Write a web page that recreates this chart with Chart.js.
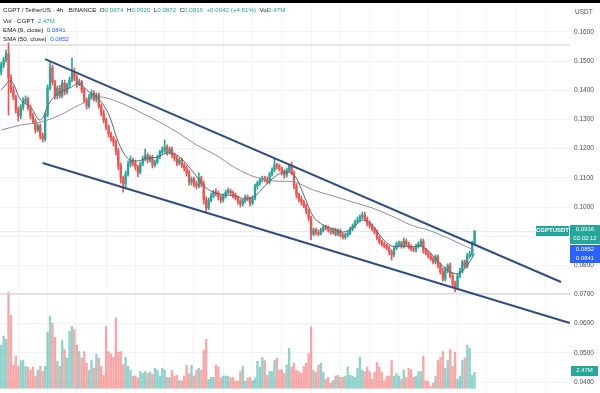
<!DOCTYPE html>
<html>
<head>
<meta charset="utf-8">
<script src="https://cdn.jsdelivr.net/npm/chart.js@4.4.1/dist/chart.umd.min.js"></script>
<style>
  html, body { margin: 0; padding: 0; background: #fff; }
  #wrap { position: relative; width: 600px; height: 393px; overflow: hidden; font-family: "Liberation Sans", Arial, sans-serif; }
  #c { position: absolute; left: 0; top: 0; }
  #topbar { position: absolute; left: 0; top: 0; width: 600px; height: 3px; background: #000; }
  .hd { position: absolute; left: 3px; font-size: 6.2px; line-height: 8px; color: #131722; white-space: nowrap; }
  .up { color: #26a69a; }
  .bl { color: #2962ff; }
  .tag { position: absolute; color: #fff; font-size: 6px; line-height: 9px; text-align: center; white-space: nowrap; }
  #usdt { position: absolute; left: 575px; top: 8px; font-size: 6.5px; color: #4a4a4a; }
</style>
</head>
<body>
<div id="wrap">
  <canvas id="c" width="600" height="393"></canvas>
  <div id="topbar"></div>
  <div class="hd" style="top:6px">CGPT / TetherUS · 4h · BINANCE&nbsp; O<span class="up">0.0874</span>&nbsp; H<span class="up">0.0920</span>&nbsp; L<span class="up">0.0872</span>&nbsp; C<span class="up">0.0916</span>&nbsp; <span class="up">+0.0042 (+4.81%)</span>&nbsp; Vol<span class="up">2.47M</span></div>
  <div class="hd" style="top:17px">Vol · CGPT&nbsp; <span class="up">2.47M</span></div>
  <div class="hd" style="top:26px">EMA (9, close)&nbsp; <span class="bl">0.0841</span></div>
  <div class="hd" style="top:35px">SMA (50, close)&nbsp; <span class="bl">0.0852</span></div>
  <div id="usdt">USDT</div>
  <div class="tag" style="left:536px;top:226px;width:33px;height:10px;background:#26a69a;font-weight:bold;">CGPTUSDT</div>
  <div class="tag" style="left:570px;top:225px;width:30px;height:19px;background:#26a69a;">0.0916<br>02:02:12</div>
  <div class="tag" style="left:570px;top:245px;width:30px;height:18px;background:#2962ff;">0.0852<br>0.0841</div>
  <div class="tag" style="left:571px;top:366px;width:27px;height:10px;background:#26a69a;">2.47M</div>
</div>
<script>
// 4h candles, CGPT/USDT
const opens = [
  0.1463,0.1487,0.1504,0.1525,0.1442,0.1401,0.1377,0.1333,0.1312,0.1343,
  0.1363,0.1370,0.1339,0.1312,0.1295,0.1264,0.1278,0.1243,0.1233,0.1315,
  0.1408,0.1477,0.1429,0.1381,0.1408,0.1381,0.1425,0.1394,0.1418,0.1435,
  0.1459,0.1442,0.1422,0.1429,0.1401,0.1367,0.1346,0.1377,0.1391,0.1370,
  0.1384,0.1346,0.1322,0.1298,0.1274,0.1250,0.1237,0.1223,0.1192,0.1141,
  0.1099,0.1079,0.1113,0.1147,0.1161,0.1151,0.1137,0.1120,0.1147,0.1165,
  0.1178,0.1161,0.1171,0.1144,0.1154,0.1171,0.1189,0.1195,0.1206,0.1189,
  0.1199,0.1178,0.1168,0.1151,0.1161,0.1144,0.1134,0.1117,0.1086,0.1096,
  0.1079,0.1072,0.1099,0.1079,0.1024,0.0997,0.1024,0.1038,0.1051,0.1048,
  0.1034,0.1024,0.1038,0.1051,0.1055,0.1048,0.1041,0.1031,0.1021,0.1010,
  0.1021,0.1034,0.1027,0.1014,0.1031,0.1072,0.1082,0.1093,0.1099,0.1093,
  0.1086,0.1113,0.1127,0.1144,0.1141,0.1130,0.1120,0.1110,0.1127,0.1141,
  0.1117,0.1072,0.1041,0.1027,0.1017,0.1003,0.0986,0.0962,0.0907,0.0921,
  0.0914,0.0907,0.0921,0.0931,0.0928,0.0921,0.0914,0.0921,0.0907,0.0918,
  0.0904,0.0897,0.0904,0.0911,0.0925,0.0935,0.0949,0.0955,0.0966,0.0973,
  0.0959,0.0945,0.0935,0.0925,0.0914,0.0894,0.0880,0.0873,0.0866,0.0859,
  0.0846,0.0836,0.0859,0.0873,0.0877,0.0866,0.0883,0.0873,0.0863,0.0856,
  0.0853,0.0866,0.0873,0.0883,0.0853,0.0842,0.0832,0.0822,0.0812,0.0829,
  0.0801,0.0777,0.0753,0.0784,0.0798,0.0764,0.0736,0.0726,0.0764,0.0781,
  0.0812,0.0798,0.0832,0.0839,0.0874
];
const highs = [
  0.1497,0.1514,0.1538,0.1562,0.1453,0.1415,0.1384,0.1343,0.1353,0.1374,
  0.1381,0.1377,0.1350,0.1322,0.1302,0.1285,0.1285,0.1254,0.1322,0.1418,
  0.1494,0.1487,0.1435,0.1415,0.1418,0.1435,0.1435,0.1425,0.1446,0.1511,
  0.1477,0.1453,0.1439,0.1435,0.1408,0.1374,0.1387,0.1401,0.1398,0.1391,
  0.1391,0.1353,0.1333,0.1305,0.1281,0.1257,0.1243,0.1230,0.1202,0.1151,
  0.1106,0.1123,0.1158,0.1175,0.1168,0.1161,0.1144,0.1154,0.1175,0.1199,
  0.1185,0.1178,0.1178,0.1161,0.1178,0.1195,0.1206,0.1230,0.1213,0.1206,
  0.1206,0.1185,0.1175,0.1168,0.1168,0.1151,0.1141,0.1127,0.1103,0.1103,
  0.1089,0.1117,0.1106,0.1089,0.1034,0.1031,0.1048,0.1058,0.1062,0.1055,
  0.1041,0.1045,0.1058,0.1065,0.1062,0.1055,0.1048,0.1038,0.1027,0.1027,
  0.1041,0.1041,0.1034,0.1038,0.1079,0.1089,0.1099,0.1106,0.1106,0.1103,
  0.1120,0.1134,0.1168,0.1151,0.1147,0.1137,0.1127,0.1134,0.1147,0.1154,
  0.1123,0.1079,0.1048,0.1038,0.1024,0.1010,0.0993,0.0969,0.0928,0.0928,
  0.0921,0.0928,0.0938,0.0938,0.0935,0.0928,0.0928,0.0928,0.0925,0.0925,
  0.0911,0.0911,0.0918,0.0931,0.0942,0.0955,0.0966,0.0973,0.0983,0.0983,
  0.0966,0.0952,0.0942,0.0931,0.0921,0.0901,0.0887,0.0880,0.0873,0.0866,
  0.0853,0.0866,0.0880,0.0883,0.0883,0.0894,0.0890,0.0880,0.0870,0.0863,
  0.0873,0.0880,0.0890,0.0890,0.0859,0.0849,0.0842,0.0829,0.0836,0.0836,
  0.0808,0.0791,0.0794,0.0805,0.0808,0.0774,0.0746,0.0770,0.0791,0.0818,
  0.0818,0.0842,0.0849,0.0883,0.0920
];
const lows = [
  0.1453,0.1477,0.1497,0.1315,0.1391,0.1367,0.1322,0.1295,0.1302,0.1333,
  0.1353,0.1333,0.1302,0.1285,0.1254,0.1257,0.1233,0.1223,0.1226,0.1309,
  0.1401,0.1418,0.1370,0.1370,0.1374,0.1374,0.1384,0.1387,0.1408,0.1429,
  0.1432,0.1411,0.1415,0.1391,0.1357,0.1336,0.1339,0.1370,0.1363,0.1360,
  0.1339,0.1312,0.1288,0.1264,0.1240,0.1226,0.1209,0.1178,0.1127,0.1082,
  0.1051,0.1069,0.1106,0.1137,0.1141,0.1127,0.1103,0.1113,0.1141,0.1158,
  0.1151,0.1154,0.1134,0.1137,0.1147,0.1165,0.1182,0.1185,0.1178,0.1182,
  0.1168,0.1158,0.1141,0.1144,0.1134,0.1123,0.1106,0.1075,0.1075,0.1069,
  0.1062,0.1065,0.1069,0.1010,0.0983,0.0990,0.1017,0.1031,0.1038,0.1024,
  0.1014,0.1017,0.1031,0.1045,0.1041,0.1031,0.1024,0.1010,0.1000,0.1003,
  0.1014,0.1021,0.1003,0.1007,0.1024,0.1062,0.1075,0.1086,0.1086,0.1079,
  0.1079,0.1106,0.1120,0.1130,0.1123,0.1110,0.1099,0.1103,0.1120,0.1110,
  0.1062,0.1031,0.1017,0.1007,0.0997,0.0976,0.0952,0.0887,0.0901,0.0904,
  0.0901,0.0904,0.0914,0.0921,0.0914,0.0907,0.0907,0.0901,0.0901,0.0897,
  0.0890,0.0890,0.0897,0.0904,0.0918,0.0928,0.0942,0.0949,0.0959,0.0952,
  0.0935,0.0928,0.0918,0.0907,0.0887,0.0873,0.0866,0.0859,0.0853,0.0836,
  0.0818,0.0829,0.0853,0.0863,0.0859,0.0859,0.0866,0.0856,0.0849,0.0846,
  0.0846,0.0859,0.0866,0.0842,0.0836,0.0825,0.0815,0.0805,0.0805,0.0791,
  0.0770,0.0746,0.0746,0.0774,0.0757,0.0726,0.0709,0.0719,0.0757,0.0774,
  0.0791,0.0791,0.0825,0.0829,0.0872
];
const closes = [
  0.1487,0.1504,0.1525,0.1442,0.1401,0.1377,0.1333,0.1312,0.1343,0.1363,
  0.1370,0.1339,0.1312,0.1295,0.1264,0.1278,0.1243,0.1233,0.1315,0.1408,
  0.1477,0.1429,0.1381,0.1408,0.1381,0.1425,0.1394,0.1418,0.1435,0.1459,
  0.1442,0.1422,0.1429,0.1401,0.1367,0.1346,0.1377,0.1391,0.1370,0.1384,
  0.1346,0.1322,0.1298,0.1274,0.1250,0.1237,0.1223,0.1192,0.1141,0.1099,
  0.1079,0.1113,0.1147,0.1161,0.1151,0.1137,0.1120,0.1147,0.1165,0.1178,
  0.1161,0.1171,0.1144,0.1154,0.1171,0.1189,0.1195,0.1206,0.1189,0.1199,
  0.1178,0.1168,0.1151,0.1161,0.1144,0.1134,0.1117,0.1086,0.1096,0.1079,
  0.1072,0.1099,0.1079,0.1024,0.0997,0.1024,0.1038,0.1051,0.1048,0.1034,
  0.1024,0.1038,0.1051,0.1055,0.1048,0.1041,0.1031,0.1021,0.1010,0.1021,
  0.1034,0.1027,0.1014,0.1031,0.1072,0.1082,0.1093,0.1099,0.1093,0.1086,
  0.1113,0.1127,0.1144,0.1141,0.1130,0.1120,0.1110,0.1127,0.1141,0.1117,
  0.1072,0.1041,0.1027,0.1017,0.1003,0.0986,0.0962,0.0907,0.0921,0.0914,
  0.0907,0.0921,0.0931,0.0928,0.0921,0.0914,0.0921,0.0907,0.0918,0.0904,
  0.0897,0.0904,0.0911,0.0925,0.0935,0.0949,0.0955,0.0966,0.0973,0.0959,
  0.0945,0.0935,0.0925,0.0914,0.0894,0.0880,0.0873,0.0866,0.0859,0.0846,
  0.0836,0.0859,0.0873,0.0877,0.0866,0.0883,0.0873,0.0863,0.0856,0.0853,
  0.0866,0.0873,0.0883,0.0853,0.0842,0.0832,0.0822,0.0812,0.0829,0.0801,
  0.0777,0.0753,0.0784,0.0798,0.0764,0.0736,0.0726,0.0764,0.0781,0.0812,
  0.0798,0.0832,0.0839,0.0873,0.0916
];
// volume, millions of CGPT
const volumes = [
  6.7,8.1,7.6,14.9,11.3,3.6,5.0,3.4,4.3,4.3,
  3.4,3.3,2.8,3.3,1.9,2.8,3.4,2.6,3.4,8.7,
  11.2,10.1,7.9,4.2,3.4,7.4,6.0,4.7,8.8,9.6,
  9.1,6.7,5.7,4.7,5.7,3.9,2.8,4.3,3.1,5.3,
  4.7,3.4,2.0,9.6,5.7,5.3,4.8,10.9,5.6,5.7,
  3.7,4.8,3.4,2.8,1.9,1.9,1.6,2.6,2.3,2.6,
  2.3,2.5,2.2,3.1,2.8,1.9,3.1,2.8,1.7,1.7,
  2.8,1.9,2.0,1.2,1.2,1.9,3.6,2.3,3.6,1.9,
  2.8,3.1,2.8,5.9,7.6,1.4,1.7,1.7,3.6,3.3,
  1.6,1.9,1.9,1.9,1.6,1.7,1.1,1.1,2.6,3.4,
  1.1,1.6,1.7,1.2,1.6,4.2,3.3,4.8,4.3,2.0,
  2.6,2.6,4.3,4.7,2.8,2.9,2.3,3.6,6.2,
  3.3,3.9,2.8,2.6,2.3,3.4,3.9,5.4,9.5,2.8,
  2.5,3.6,3.9,2.5,1.4,1.7,0.8,1.2,1.9,2.0,
  1.7,1.7,1.9,3.3,2.0,1.9,1.7,3.1,4.8,2.8,
  2.6,3.3,2.6,1.4,2.5,4.0,3.3,2.5,1.2,1.9,
  1.9,4.3,1.9,2.3,1.9,1.4,2.8,1.7,3.1,2.9,
  1.7,1.9,2.6,2.6,5.0,1.2,1.1,0.3,0.8,1.9,
  4.3,4.8,5.7,3.1,4.3,6.0,3.4,5.6,1.4,1.9,
  4.3,4.7,6.7,6.2,2.0,2.47
];

// EMA (9) and SMA (50) read at selected candles
const emaIdx = [0,4,8,12,16,20,24,28,32,36,40,44,48,52,56,60,64,68,72,76,80,84,88,92,96,100,104,108,112,116,120,124,128,132,136,140,144,148,152,156,160,164,168,172,176,180,184,188,192,194];
const emaVals = [
  0.1401,0.1432,0.1367,0.1343,0.1298,0.1360,0.1394,0.1408,0.1422,0.1394,
  0.1370,0.1319,0.1223,0.1165,0.1158,0.1168,0.1171,0.1185,0.1178,0.1147,
  0.1106,0.1065,0.1048,0.1041,0.1038,0.1027,0.1038,0.1072,0.1103,0.1120,
  0.1110,0.1041,0.0966,0.0938,0.0925,0.0914,0.0928,0.0955,0.0938,0.0894,
  0.0866,0.0866,0.0863,0.0866,0.0842,0.0805,0.0777,0.0774,0.0812,0.0841
];
const smaIdx = [0,8,16,24,32,40,48,56,64,72,80,88,96,104,112,120,128,136,144,152,160,168,176,184,192,194];
const smaVals = [
  0.1264,0.1281,0.1291,0.1315,0.1350,0.1377,0.1360,0.1329,0.1295,0.1257,
  0.1213,0.1178,0.1134,0.1103,0.1089,0.1086,0.1058,0.1038,0.1017,0.0997,
  0.0969,0.0938,0.0918,0.0890,0.0859,0.0852
];

// drawn channel (candle index, price) and horizontal levels
const upperTrend = [[18.0, 0.1507], [229.4, 0.0743]];
const lowerTrend = [[17.0, 0.1151], [233.0, 0.0602]];
const levels = [0.1555, 0.0703];
const priceTicks = [0.04,0.05,0.06,0.07,0.08,0.09,0.10,0.11,0.12,0.13,0.14,0.15,0.16];

const UP = "#26a69a", DOWN = "#ef5350";
const last = closes.length - 1;
const isUp = closes.map((c, i) => c >= opens[i]);
const xMin = -0.49, xMax = 233.1;

const pts = (arr) => arr.map(p => ({ x: p[0], y: p[1] }));
const hline = (v) => [{ x: xMin, y: v }, { x: xMax, y: v }];

const datasets = [
  // channel lines on top
  { type: "line", data: pts(upperTrend), borderColor: "#2f4d84", borderWidth: 2, pointRadius: 0, order: 0 },
  { type: "line", data: pts(lowerTrend), borderColor: "#2f4d84", borderWidth: 2, pointRadius: 0, order: 0 },
  // moving averages
  { type: "line", data: emaIdx.map((x, k) => ({ x, y: emaVals[k] })), borderColor: "#5f6677", borderWidth: 1, pointRadius: 0, tension: 0.35, order: 1 },
  { type: "line", data: smaIdx.map((x, k) => ({ x, y: smaVals[k] })), borderColor: "#8a8f9c", borderWidth: 1, pointRadius: 0, tension: 0.35, order: 1 },
  // candles
  { type: "bar", data: closes.map((c, i) => ({ x: i, y: [Math.min(opens[i], c), Math.max(opens[i], c)] })),
    backgroundColor: isUp.map(u => u ? UP : DOWN), barThickness: 1.7, minBarLength: 1, grouped: false, order: 2 },
  { type: "bar", data: closes.map((c, i) => ({ x: i, y: [lows[i], highs[i]] })),
    backgroundColor: isUp.map(u => u ? UP : DOWN), barThickness: 1, grouped: false, order: 3 },
  // levels + last price line
  { type: "line", data: hline(levels[0]), borderColor: "#dcdcdc", borderWidth: 1.5, pointRadius: 0, order: 4 },
  { type: "line", data: hline(levels[1]), borderColor: "#dcdcdc", borderWidth: 1.5, pointRadius: 0, order: 4 },
  { type: "line", data: hline(closes[last]), borderColor: "#cfdcd9", borderWidth: 1, borderDash: [1, 1], pointRadius: 0, order: 4 },
  // volume
  { type: "bar", yAxisID: "yv", data: volumes.map((v, i) => ({ x: i, y: v })),
    backgroundColor: isUp.map(u => u ? "rgba(38,166,154,0.5)" : "rgba(239,83,80,0.5)"),
    barThickness: 1.7, grouped: false, order: 5 }
];

new Chart(document.getElementById("c"), {
  type: "bar",
  data: { datasets },
  options: {
    responsive: false,
    animation: false,
    layout: { padding: 0 },
    plugins: { legend: { display: false }, tooltip: { enabled: false } },
    scales: {
      x: {
        type: "linear", min: xMin, max: xMax, offset: false,
        grid: { color: "#f1f3f6", drawTicks: false, offset: false },
        border: { display: false },
        ticks: { display: false },
        afterBuildTicks: (s) => { const t = []; for (let v = 7; v <= xMax; v += 12) t.push({ value: v }); s.ticks = t; },
        afterFit: (s) => { s.height = 0; s.paddingLeft = 0; s.paddingRight = 0; }
      },
      y: {
        position: "right", min: 0.03623, max: 0.17097,
        grid: { color: "#f1f3f6", drawTicks: false },
        border: { display: false },
        afterBuildTicks: (s) => { s.ticks = priceTicks.map(v => ({ value: v })); },
        afterFit: (s) => { s.width = 30; s.paddingTop = 0; s.paddingBottom = 0; },
        ticks: { autoSkip: false, padding: 4, color: "#4a4a4a", font: { family: "Liberation Sans", size: 6.5 }, callback: (v) => v.toFixed(4) }
      },
      yv: { display: false, min: -0.73, max: 60.2 }
    }
  }
});
</script>
</body>
</html>
